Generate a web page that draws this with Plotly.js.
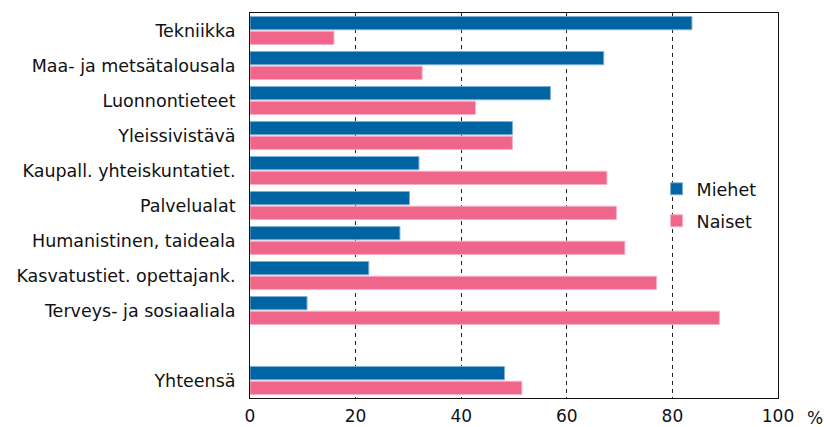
<!DOCTYPE html>
<html>
<head>
<meta charset="utf-8">
<script src="https://cdn.plot.ly/plotly-3.0.1.min.js"></script>
<style>html,body{margin:0;padding:0;background:#fff;}#chart{width:824px;height:427px;}</style>
</head>
<body>
<div id="chart"></div>
<script>
const categories = ["Tekniikka", "Maa- ja metsätalousala", "Luonnontieteet", "Yleissivistävä",
  "Kaupall. yhteiskuntatiet.", "Palvelualat", "Humanistinen, taideala",
  "Kasvatustiet. opettajank.", "Terveys- ja sosiaaliala", "\u00a0", "Yhteensä"];
const miehet = [83.7, 67.0, 56.9, 49.7, 32.0, 30.2, 28.4, 22.5, 10.8, null, 48.2];
const naiset = [15.9, 32.6, 42.7, 49.7, 67.6, 69.4, 71.0, 77.0, 88.9, null, 51.5];
const seriesNames = ["Miehet", "Naiset"];
const xTicks = [0, 20, 40, 60, 80, 100];

const FONT = "DejaVu Sans, Verdana, sans-serif";
const data = [
  {type: "bar", orientation: "h", name: seriesNames[0], y: categories, x: miehet,
   marker: {color: "#0063A2", line: {color: "#7fb0d4", width: 1}}, legend: "legend", hoverinfo: "none"},
  {type: "bar", orientation: "h", name: seriesNames[1], y: categories, x: naiset,
   marker: {color: "#F0668A", line: {color: "#f7b0c2", width: 1}}, legend: "legend2", hoverinfo: "none"}
];
const layout = {
  width: 824, height: 427,
  margin: {l: 250, r: 46, t: 13, b: 29},
  paper_bgcolor: "#fff", plot_bgcolor: "#fff",
  font: {family: FONT, size: 17.5, color: "#111"},
  barmode: "group", bargap: 0.16, bargroupgap: 0.1,
  showlegend: true,
  legend: {x: 0.77, y: 0.543, xanchor: "left", yanchor: "middle", bgcolor: "rgba(0,0,0,0)",
           font: {family: FONT, size: 17.5, color: "#111"}},
  legend2: {x: 0.77, y: 0.46, xanchor: "left", yanchor: "middle", bgcolor: "rgba(0,0,0,0)",
           font: {family: FONT, size: 17.5, color: "#111"}},
  xaxis: {range: [0, 100], tickvals: xTicks, ticktext: xTicks.map(String),
          showgrid: true, gridcolor: "#222", griddash: "4px,4px", gridwidth: 1,
          zeroline: false, showline: true, linecolor: "#111", linewidth: 1, mirror: true,
          ticks: "outside", ticklen: 3, tickcolor: "rgba(0,0,0,0)",
          tickfont: {family: FONT, size: 17, color: "#111"}, fixedrange: true},
  yaxis: {type: "category", categoryorder: "array", categoryarray: categories,
          range: [10.5, -0.5], showgrid: false, zeroline: false,
          showline: true, linecolor: "#111", linewidth: 1, mirror: true,
          ticks: "outside", ticklen: 10, tickcolor: "rgba(0,0,0,0)", fixedrange: true},
  annotations: [{text: "%", xref: "paper", yref: "paper", x: 1.07, y: -0.051,
                 xanchor: "center", yanchor: "middle", showarrow: false,
                 font: {family: FONT, size: 17, color: "#111"}}]
};
Plotly.newPlot("chart", data, layout, {staticPlot: true, displayModeBar: false});
</script>
</body>
</html>
